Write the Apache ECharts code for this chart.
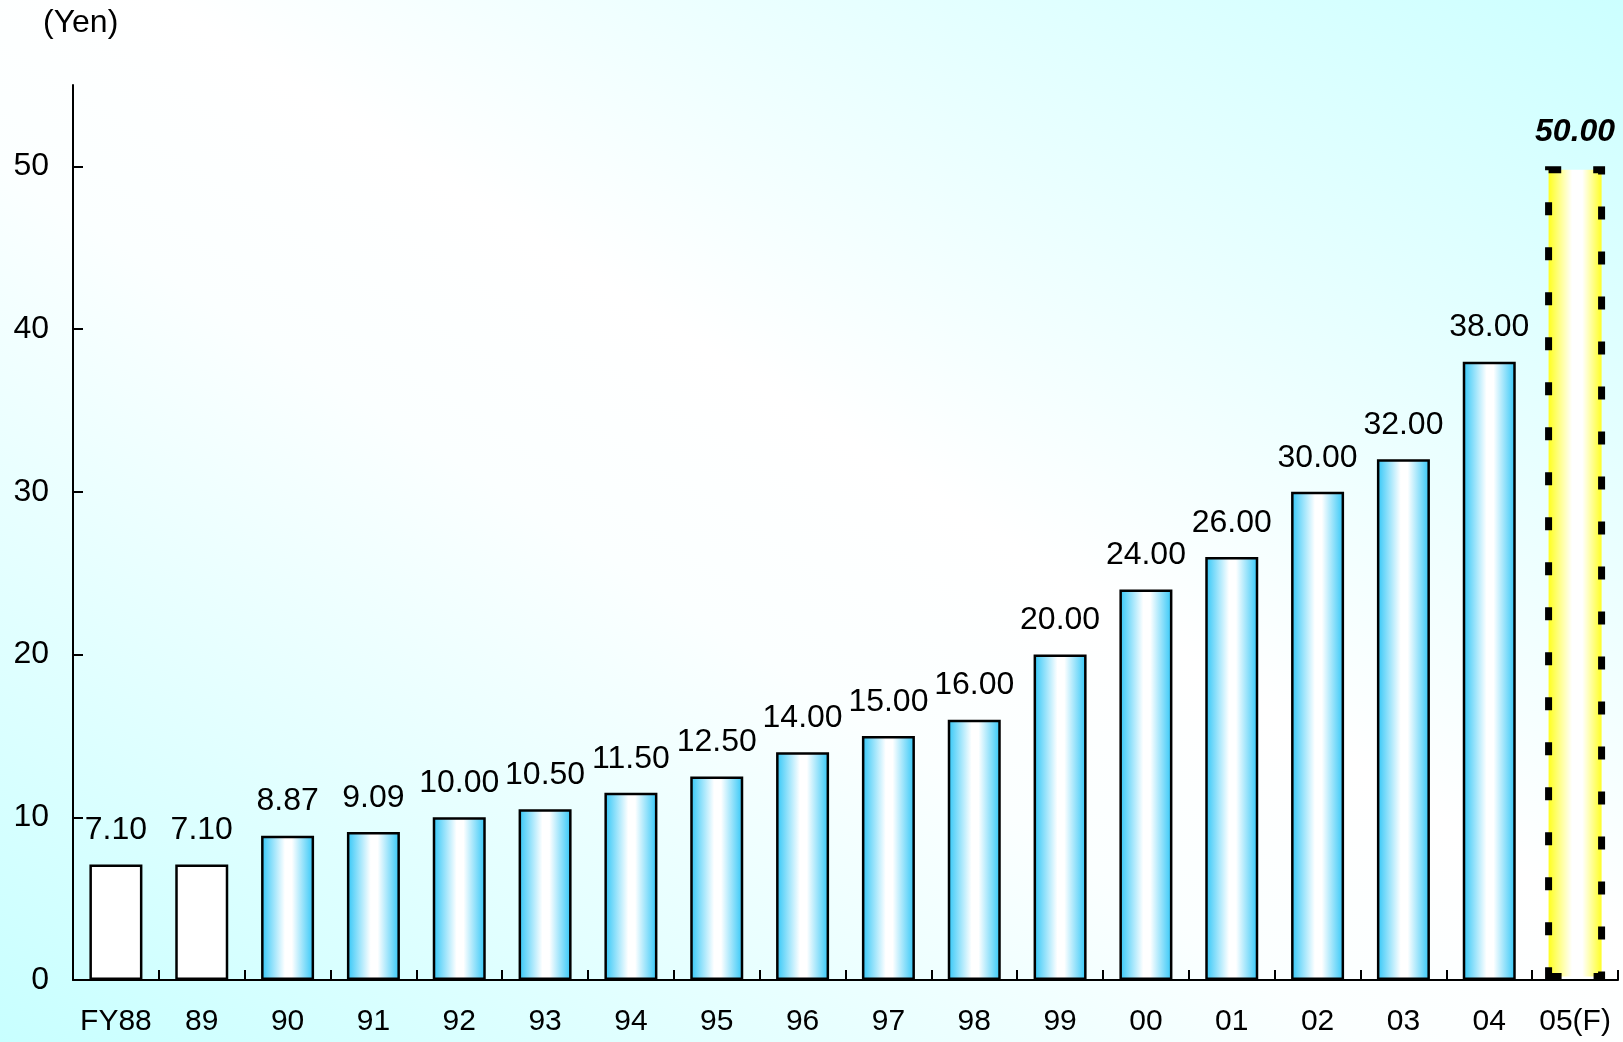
<!DOCTYPE html>
<html><head><meta charset="utf-8">
<script src="https://cdn.jsdelivr.net/npm/echarts@6/dist/echarts.min.js"></script>
<style>html,body{margin:0;padding:0;}#c{width:1623px;height:1042px;}</style>
</head><body><div id="c"></div>
<script>
const categories = ['FY88','89','90','91','92','93','94','95','96','97','98','99','00','01','02','03','04','05(F)'];
const values = [7.10,7.10,8.87,9.09,10.00,10.50,11.50,12.50,14.00,15.00,16.00,20.00,24.00,26.00,30.00,32.00,38.00,50.00];
const yTicks = [0,10,20,30,40,50];
const unitLabel = '(Yen)';
const plainCount = 2;
const forecastIndex = values.length - 1;

const FONT = '"Liberation Sans", Arial, sans-serif';
const blueGrad = {type:'linear',x:0,y:0,x2:1,y2:0,colorStops:[
  {offset:0,color:'#2ec6f7'},{offset:0.45,color:'#ffffff'},{offset:0.58,color:'#ffffff'},{offset:1,color:'#2ec6f7'}]};
const yellowGrad = {type:'linear',x:0,y:0,x2:1,y2:0,colorStops:[
  {offset:0,color:'#ffff00'},{offset:0.45,color:'#ffffff'},{offset:0.62,color:'#ffffff'},{offset:1,color:'#ffff00'}]};

const actualData = values.map((v,i)=>{
  if (i === forecastIndex) return '-';
  if (i < plainCount) return {value:v, itemStyle:{color:'#ffffff'}};
  return {value:v, itemStyle:{color:blueGrad}};
});
const forecastData = values.map((v,i)=> i === forecastIndex ? v : '-');

const chart = echarts.init(document.getElementById('c'));
chart.setOption({
  backgroundColor:{type:'linear',global:true,x:338,y:1259,x2:1285,y2:-217,colorStops:[
    {offset:0,color:'#c8ffff'},{offset:0.42,color:'#fbffff'},{offset:0.55,color:'#ffffff'},{offset:1,color:'#ccffff'}]},
  textStyle:{fontFamily:FONT},
  animation:false,
  grid:{left:73,right:5,top:85,bottom:62},
  graphic:[{type:'text',left:43,top:7,style:{text:unitLabel,font:'32px '+FONT,fill:'#000'}}],
  xAxis:[{type:'category',data:categories,
    axisLine:{lineStyle:{color:'#000',width:2}},
    axisTick:{show:true,inside:true,length:10,interval:0,lineStyle:{color:'#000',width:2}},
    axisLabel:{interval:0,color:'#000',fontSize:30,margin:27,fontFamily:FONT}},
   {type:'category',data:categories,position:'bottom',show:false}],
  yAxis:{type:'value',min:0,max:55,interval:10,
    splitLine:{show:false},
    axisLine:{show:true,lineStyle:{color:'#000',width:2}},
    axisTick:{show:true,inside:true,length:10,customValues:yTicks,lineStyle:{color:'#000',width:2}},
    axisLabel:{color:'#000',fontSize:32,margin:24,customValues:yTicks,fontFamily:FONT}},
  series:[{type:'bar',data:actualData,barWidth:53,xAxisIndex:0,
    itemStyle:{borderColor:'#000',borderWidth:2.5},
    label:{show:true,position:'top',distance:18,color:'#000',fontSize:32,fontFamily:FONT,
      formatter:p=>p.value.toFixed(2)}},
   {type:'bar',data:forecastData,barWidth:60,xAxisIndex:1,
    itemStyle:{color:yellowGrad,borderColor:'#000',borderWidth:7,borderType:[13,32]},
    label:{show:true,position:'top',distance:18,color:'#000',fontSize:32,fontWeight:'bold',fontStyle:'italic',fontFamily:FONT,
      formatter:p=>p.value.toFixed(2)}}]
});
</script></body></html>
